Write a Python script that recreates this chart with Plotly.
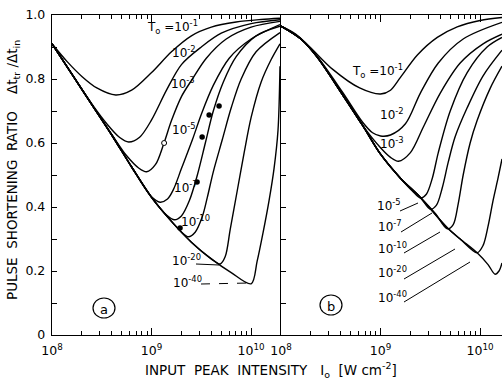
import plotly.graph_objects as go

# ---------------- data (log10 of input peak intensity, pulse shortening ratio) ----------------
T0_EXPONENTS = [-1, -2, -3, -5, -7, -10, -20, -40]

# panel (a)
A_LOGI = [
    [8.0, 8.15, 8.3, 8.45, 8.64, 8.8, 9.0, 9.2, 9.4, 9.6, 9.85, 10.1, 10.29],
    [8.0, 8.2, 8.4, 8.55, 8.68, 8.77, 8.88, 9.0, 9.15, 9.3, 9.5, 9.7, 10.0, 10.29],
    [8.0, 8.2, 8.4, 8.6, 8.75, 8.87, 8.95, 9.04, 9.125, 9.2, 9.3, 9.41, 9.55, 9.75, 10.0, 10.29],
    [8.0, 8.2, 8.4, 8.6, 8.8, 9.0, 9.085, 9.16, 9.22, 9.3, 9.41, 9.5, 9.62, 9.78, 10.0, 10.29],
    [8.0, 8.2, 8.4, 8.6, 8.8, 9.0, 9.15, 9.23, 9.3, 9.38, 9.46, 9.54, 9.62, 9.72, 9.85, 10.05, 10.29],
    [8.0, 8.2, 8.4, 8.6, 8.8, 9.0, 9.2, 9.3, 9.37, 9.44, 9.51, 9.56, 9.62, 9.71, 9.8, 9.9, 10.05, 10.29],
    [8.0, 8.2, 8.4, 8.6, 8.8, 9.0, 9.2, 9.4, 9.6, 9.69, 9.74, 9.79, 9.86, 9.93, 10.0, 10.1, 10.2, 10.29],
    [8.0, 8.2, 8.4, 8.6, 8.8, 9.0, 9.2, 9.4, 9.6, 9.8, 10.0, 10.06, 10.12, 10.18, 10.23, 10.27, 10.29],
]
A_RATIO = [
    [0.91, 0.855, 0.808, 0.772, 0.75, 0.765, 0.82, 0.885, 0.935, 0.962, 0.978, 0.986, 0.99],
    [0.91, 0.815, 0.722, 0.66, 0.617, 0.603, 0.618, 0.672, 0.765, 0.845, 0.9, 0.943, 0.973, 0.985],
    [0.91, 0.815, 0.72, 0.627, 0.56, 0.522, 0.51, 0.533, 0.60, 0.67, 0.745, 0.80, 0.865, 0.925, 0.962, 0.98],
    [0.91, 0.815, 0.72, 0.625, 0.525, 0.432, 0.415, 0.425, 0.455, 0.52, 0.61, 0.69, 0.78, 0.865, 0.925, 0.97],
    [0.91, 0.815, 0.72, 0.625, 0.525, 0.43, 0.375, 0.36, 0.372, 0.42, 0.5, 0.6, 0.7, 0.79, 0.87, 0.935, 0.965],
    [0.91, 0.815, 0.72, 0.625, 0.525, 0.43, 0.355, 0.322, 0.307, 0.322, 0.37, 0.43, 0.51, 0.61, 0.71, 0.8, 0.885, 0.945],
    [0.91, 0.815, 0.72, 0.625, 0.525, 0.43, 0.355, 0.29, 0.238, 0.222, 0.245, 0.33, 0.45, 0.57, 0.68, 0.79, 0.86, 0.91],
    [0.91, 0.815, 0.72, 0.625, 0.525, 0.43, 0.355, 0.29, 0.238, 0.195, 0.16, 0.23, 0.32, 0.42, 0.52, 0.64, 0.84],
]
# experimental points in panel (a)
DOT_LOGI = [9.286, 9.457, 9.508, 9.578, 9.678]
DOT_RATIO = [0.334, 0.478, 0.619, 0.6875, 0.716]
OPEN_LOGI = [9.126]
OPEN_RATIO = [0.60]

# panel (b)
B_LOGI = [
    [8.0, 8.15, 8.29, 8.52, 8.79, 9.0, 9.1, 9.2, 9.37, 9.57, 9.77, 10.0, 10.22],
    [8.0, 8.2, 8.36, 8.62, 8.82, 8.92, 9.0, 9.1, 9.25, 9.40, 9.58, 9.83, 10.22],
    [8.0, 8.2, 8.36, 8.62, 8.82, 9.0, 9.1, 9.18, 9.3, 9.43, 9.6, 9.8, 10.03, 10.22],
    [8.0, 8.2, 8.36, 8.62, 8.82, 9.0, 9.2, 9.32, 9.40, 9.46, 9.52, 9.58, 9.70, 9.87, 10.07, 10.22],
    [8.0, 8.2, 8.36, 8.62, 8.82, 9.0, 9.2, 9.4, 9.5, 9.56, 9.62, 9.68, 9.75, 9.87, 10.03, 10.22],
    [8.0, 8.2, 8.36, 8.62, 8.82, 9.0, 9.2, 9.4, 9.55, 9.67, 9.73, 9.78, 9.83, 9.9, 9.97, 10.1, 10.22],
    [8.0, 8.2, 8.36, 8.62, 8.82, 9.0, 9.2, 9.4, 9.67, 9.8, 9.97, 10.03, 10.08, 10.13, 10.18, 10.22],
    [8.0, 8.2, 8.36, 8.62, 8.82, 9.0, 9.2, 9.4, 9.67, 9.8, 9.97, 10.08, 10.15, 10.19, 10.22],
]
B_RATIO = [
    [0.965, 0.94, 0.90, 0.83, 0.772, 0.753, 0.765, 0.805, 0.875, 0.93, 0.963, 0.983, 0.992],
    [0.965, 0.925, 0.872, 0.758, 0.665, 0.632, 0.622, 0.625, 0.66, 0.756, 0.85, 0.925, 0.977],
    [0.965, 0.925, 0.87, 0.752, 0.655, 0.585, 0.555, 0.543, 0.57, 0.65, 0.756, 0.85, 0.91, 0.94],
    [0.965, 0.925, 0.87, 0.75, 0.655, 0.565, 0.49, 0.45, 0.428, 0.44, 0.49, 0.57, 0.70, 0.82, 0.90, 0.93],
    [0.965, 0.925, 0.87, 0.75, 0.655, 0.565, 0.49, 0.43, 0.393, 0.405, 0.46, 0.54, 0.62, 0.71, 0.81, 0.89],
    [0.965, 0.925, 0.87, 0.75, 0.655, 0.565, 0.49, 0.43, 0.38, 0.332, 0.345, 0.41, 0.5, 0.6, 0.67, 0.77, 0.84],
    [0.965, 0.925, 0.87, 0.75, 0.655, 0.565, 0.49, 0.43, 0.335, 0.30, 0.257, 0.28, 0.34, 0.42, 0.49, 0.55],
    [0.965, 0.925, 0.87, 0.75, 0.655, 0.565, 0.49, 0.43, 0.335, 0.30, 0.257, 0.22, 0.19, 0.20, 0.225],
]

X_MAJOR = [8, 9, 10]
Y_TICKS = [0, 0.2, 0.4, 0.6, 0.8, 1.0]
Y_TICKTEXT = ["0", "0.2", "0.4", "0.6", "0.8", "1.0"]

# ---------------- layout helpers ----------------
W, H = 502, 380
ML, MR, MT, MB = 52, 0, 15, 45
PW, PH = W - ML - MR, H - MT - MB


def PX(px):
    return (px - ML) / PW


def PY(py):
    return (H - MB - py) / PH


FONT = "DejaVu Sans"
LINE = dict(color="black", width=1.4, shape="spline", smoothing=0.9)

fig = go.Figure()

for lx, ry in zip(A_LOGI, A_RATIO):
    fig.add_trace(go.Scatter(x=[10 ** v for v in lx], y=ry, mode="lines", line=LINE,
                             xaxis="x", yaxis="y", showlegend=False, hoverinfo="skip"))
for lx, ry in zip(B_LOGI, B_RATIO):
    fig.add_trace(go.Scatter(x=[10 ** v for v in lx], y=ry, mode="lines", line=LINE,
                             xaxis="x2", yaxis="y2", showlegend=False, hoverinfo="skip"))

fig.add_trace(go.Scatter(x=[10 ** v for v in DOT_LOGI], y=DOT_RATIO, mode="markers",
                         marker=dict(color="black", size=5.5), xaxis="x", yaxis="y",
                         showlegend=False, hoverinfo="skip"))
fig.add_trace(go.Scatter(x=[10 ** v for v in OPEN_LOGI], y=OPEN_RATIO, mode="markers",
                         marker=dict(color="white", size=5, line=dict(color="black", width=1)),
                         xaxis="x", yaxis="y", showlegend=False, hoverinfo="skip"))

minor_vals = [m * 10 ** d for d in (8, 9, 10) for m in range(2, 10)]
xticktext = ["10<sup>%d</sup>" % e for e in X_MAJOR]


def xaxis(domain, rng):
    return dict(type="log", range=rng, domain=domain, showgrid=False, zeroline=False,
                showline=True, linecolor="black", linewidth=1.4, mirror="ticks",
                ticks="inside", ticklen=7, tickwidth=1, tickcolor="black",
                tickvals=[10 ** e for e in X_MAJOR], ticktext=xticktext, ticklabelstandoff=4,
                tickfont=dict(family=FONT, size=12.5, color="black"),
                minor=dict(tickvals=minor_vals, ticks="inside", ticklen=4, tickwidth=1,
                           tickcolor="black", showgrid=False))


xa = xaxis([0, PX(280)], [8, 10.29])
xb = xaxis([PX(281), 1], [8, 10.22])

ya = dict(range=[0, 1.0], showgrid=False, zeroline=False, showline=True, linecolor="black",
          linewidth=1.4, mirror=True, ticks="inside", ticklen=5, tickwidth=1, tickcolor="black",
          tickvals=Y_TICKS, ticktext=Y_TICKTEXT, anchor="x", ticklabelstandoff=3,
          minor=dict(dtick=0.1, ticks="inside", ticklen=5, tickwidth=1, tickcolor="black",
                     showgrid=False),
          tickfont=dict(family=FONT, size=12.5, color="black"))
yb = dict(range=[0, 1.0], showgrid=False, zeroline=False, showline=True, linecolor="black",
          linewidth=1.4, mirror=False, ticks="inside", ticklen=5, tickwidth=1, tickcolor="black",
          tickvals=Y_TICKS, showticklabels=False, anchor="x2",
          minor=dict(dtick=0.1, ticks="inside", ticklen=5, tickwidth=1, tickcolor="black",
                     showgrid=False))

annotations = []
shapes = []


def lbl(exp, cx, cy, first=False):
    txt = ("T<sub>o</sub> =10<sup>%d</sup>" if first else "10<sup>%d</sup>") % exp
    annotations.append(dict(x=PX(cx), y=PY(cy), xref="paper", yref="paper", text=txt,
                            showarrow=False, font=dict(family=FONT, size=12, color="black"),
                            xanchor="center", yanchor="middle"))


A_LABEL_POS = [(172, 27), (184, 52), (183, 83), (184, 129), (186, 187), (195, 221), (186, 260), (187, 282)]
B_LABEL_POS = [(377, 71), (392, 114), (392, 143), (389, 205), (390, 226), (392, 248), (392, 272), (392, 297)]
for i, e in enumerate(T0_EXPONENTS):
    lbl(e, *A_LABEL_POS[i], first=(i == 0))
    lbl(e, *B_LABEL_POS[i], first=(i == 0))

# leader lines
for (x0, y0, x1, y1, dash) in [(196, 264, 219, 265, "solid"), (201, 284, 250, 283, "dash")]:
    shapes.append(dict(type="line", xref="paper", yref="paper", x0=PX(x0), y0=PY(y0),
                       x1=PX(x1), y1=PY(y1), line=dict(color="black", width=1, dash=dash)))
for (x0, y0, x1, y1) in [(400, 211, 418, 203), (401, 232, 432, 213), (404, 253, 440, 232),
                         (404, 279, 455, 249), (404, 302, 470, 262)]:
    shapes.append(dict(type="line", xref="paper", yref="paper", x0=PX(x0), y0=PY(y0),
                       x1=PX(x1), y1=PY(y1), line=dict(color="black", width=1)))

# circled panel letters
for letter, cx, cy in [("a", 104, 308), ("b", 331, 305)]:
    shapes.append(dict(type="circle", xref="paper", yref="paper", xsizemode="pixel",
                       ysizemode="pixel", xanchor=PX(cx), yanchor=PY(cy),
                       x0=-11, x1=11, y0=-10, y1=10, line=dict(color="black", width=1.2)))
    annotations.append(dict(x=PX(cx), y=PY(cy + 1), xref="paper", yref="paper", text=letter,
                            showarrow=False, font=dict(family=FONT, size=13, color="black"),
                            xanchor="center", yanchor="middle"))

# axis titles
annotations.append(dict(x=PX(13), y=PY(170), xref="paper", yref="paper", textangle=-90,
                        text="PULSE  SHORTENING  RATIO    Δt<sub>tr</sub> /Δt<sub>in</sub>",
                        showarrow=False, font=dict(family=FONT, size=13.5, color="black"),
                        xanchor="center", yanchor="middle"))
annotations.append(dict(x=PX(271), y=PY(370), xref="paper", yref="paper",
                        text="INPUT  PEAK  INTENSITY   I<sub>o</sub>  [W cm<sup>-2</sup>]",
                        showarrow=False, font=dict(family=FONT, size=13.5, color="black"),
                        xanchor="center", yanchor="middle"))

fig.update_layout(width=W, height=H, margin=dict(l=ML, r=MR, t=MT, b=MB),
                  paper_bgcolor="white", plot_bgcolor="white",
                  xaxis=xa, yaxis=ya, xaxis2=dict(xb, anchor="y2"), yaxis2=yb,
                  annotations=annotations, shapes=shapes)

fig.write_html("out.html", config={"displayModeBar": False})
